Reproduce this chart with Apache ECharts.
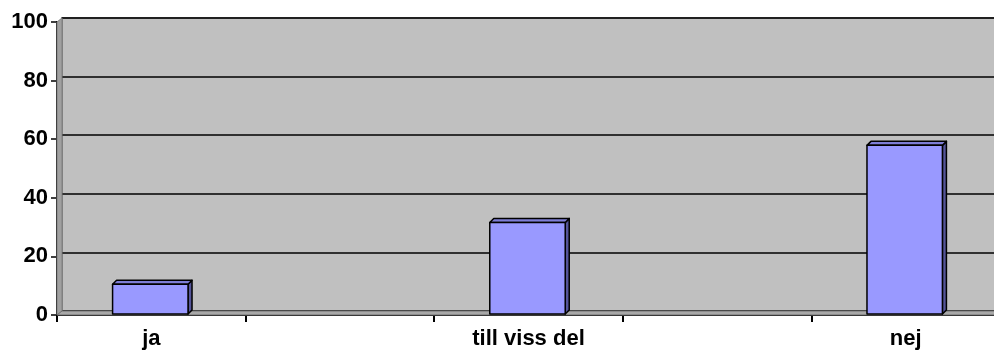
<!DOCTYPE html>
<html>
<head>
<meta charset="utf-8">
<script src="https://cdn.jsdelivr.net/npm/echarts@6/dist/echarts.min.js"></script>
<style>
  html, body {margin: 0; padding: 0; background: #fff;}
  #chart {width: 994px; height: 354px;}
</style>
</head>
<body>
<div id="chart"></div>
<script>
// categories (the empty ones are the gaps between the three answers)
const categories = ['ja', '', 'till viss del', '', 'nej'];
const values = [10.5, null, 31.6, null, 57.9];
const yTicks = [0, 20, 40, 60, 80, 100];

const font = {fontFamily: 'Liberation Sans, Arial, sans-serif', fontWeight: 'bold', fontSize: 22, color: '#000'};
const depth = 4;

const barData = values
  .map((v, i) => [i, v])
  .filter(d => d[1] != null);

const chart = echarts.init(document.getElementById('chart'));

chart.setOption({
  animation: false,
  grid: [
    // back wall, shifted up/right for the 3D look
    {left: 62, top: 18, width: 943, height: 293, outerBoundsMode: 'none', show: true,
      backgroundColor: '#C0C0C0', borderColor: '#808080', borderWidth: 2},
    {left: 57, top: 22, width: 943, height: 293, outerBoundsMode: 'none'}
  ],
  xAxis: [
    {gridIndex: 0, type: 'category', data: categories, show: false},
    {
      gridIndex: 1, type: 'category', data: categories,
      axisLine: {show: true, lineStyle: {color: '#000', width: 2}},
      axisTick: {show: true, alignWithLabel: false, inside: false, interval: 0, length: 7,
        lineStyle: {color: '#000', width: 2}},
      axisLabel: Object.assign({interval: 0, margin: 13}, font)
    }
  ],
  yAxis: [
    {
      gridIndex: 0, type: 'value', min: 0, max: yTicks[yTicks.length - 1], interval: 20,
      axisLine: {show: false}, axisTick: {show: false}, axisLabel: {show: false},
      splitLine: {lineStyle: {color: '#000', width: 1.5}}
    },
    {
      gridIndex: 1, type: 'value', min: 0, max: yTicks[yTicks.length - 1], interval: 20,
      axisLine: {show: true, lineStyle: {color: '#000', width: 2}},
      axisTick: {show: true, length: 6, lineStyle: {color: '#000', width: 1.5}},
      axisLabel: Object.assign({margin: 9}, font),
      splitLine: {show: false}
    }
  ],
  graphic: [
    // side wall and floor
    {type: 'polygon', z: 1, shape: {points: [[57, 22], [62, 18], [62, 311], [57, 315]]},
      style: {fill: '#A0A0A0', stroke: '#808080', lineWidth: 1}},
    {type: 'polygon', z: 1, shape: {points: [[57, 315], [62, 311], [1005, 311], [1000, 315]]},
      style: {fill: '#A8A8A8', stroke: '#707070', lineWidth: 1}}
  ],
  series: [{
    type: 'custom',
    xAxisIndex: 1,
    yAxisIndex: 1,
    z: 5,
    data: barData,
    renderItem(params, api) {
      const top = api.coord([api.value(0), api.value(1)]);
      const base = api.coord([api.value(0), 0]);
      const bw = api.size([1, 0])[0] * 0.4;
      const x0 = top[0] - bw / 2 - 1;
      const x1 = top[0] + bw / 2 - 1;
      const y0 = top[1];
      const y1 = base[1] - 1;
      const line = {stroke: '#000', lineWidth: 1.5, lineJoin: 'round'};
      return {
        type: 'group',
        children: [
          {type: 'polygon', shape: {points: [[x1, y0], [x1 + depth, y0 - depth], [x1 + depth, y1 - depth], [x1, y1]]},
            style: Object.assign({fill: '#55559A'}, line)},
          {type: 'polygon', shape: {points: [[x0, y0], [x0 + depth, y0 - depth], [x1 + depth, y0 - depth], [x1, y0]]},
            style: Object.assign({fill: '#7E7ED6'}, line)},
          {type: 'rect', shape: {x: x0, y: y0, width: bw, height: y1 - y0},
            style: Object.assign({fill: '#9999FF'}, line)}
        ]
      };
    }
  }]
});
</script>
</body>
</html>
